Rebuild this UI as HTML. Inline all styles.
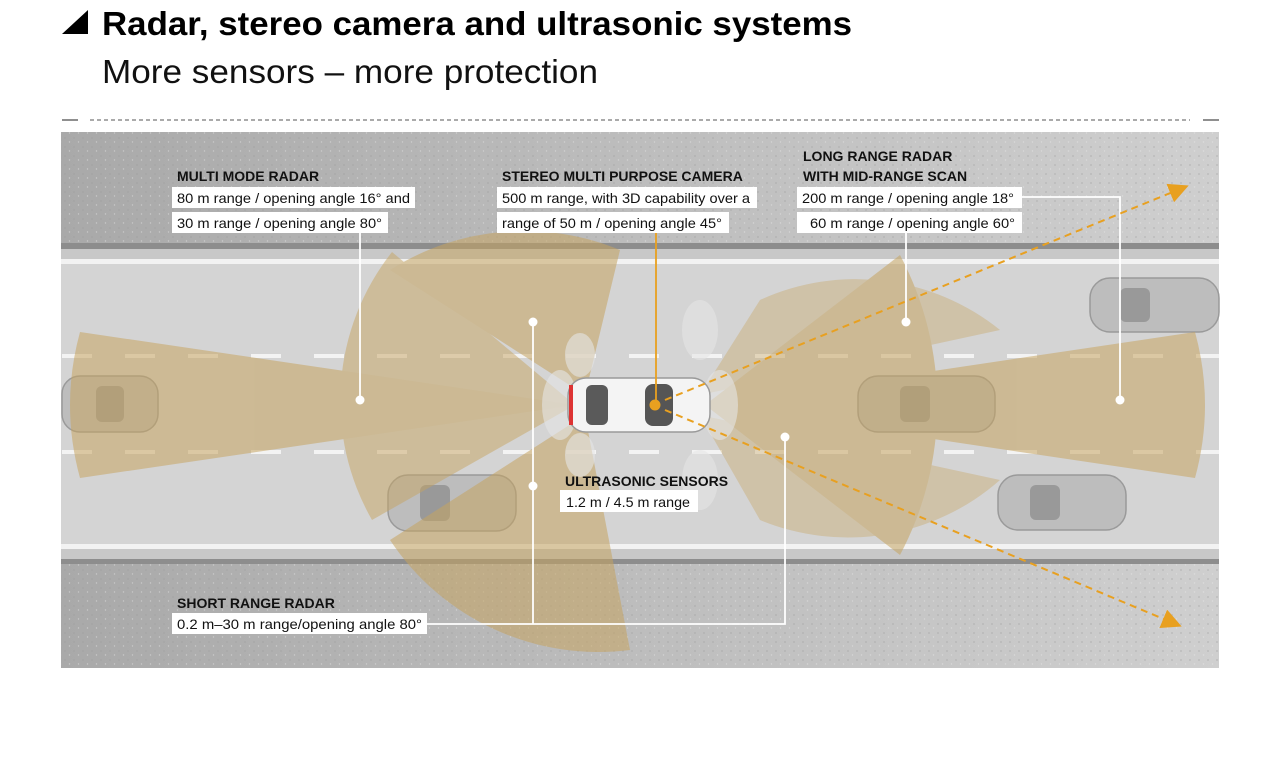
<!DOCTYPE html>
<html><head><meta charset="utf-8"><style>
body{margin:0;background:#fff;width:1281px;height:754px;overflow:hidden;font-family:"Liberation Sans",sans-serif}
</style></head><body>
<svg width="1281" height="754" xmlns="http://www.w3.org/2000/svg" font-family="Liberation Sans, sans-serif">
<defs>
<linearGradient id="sh" x1="0" x2="1" y1="0" y2="0"><stop offset="0" stop-color="#a9a9a9"/><stop offset="0.5" stop-color="#bdbdbd"/><stop offset="1" stop-color="#cfcfcf"/></linearGradient>
<pattern id="dots" width="9" height="9" patternUnits="userSpaceOnUse"><circle cx="2" cy="3" r="0.9" fill="#9a9a9a"/><circle cx="6.5" cy="7" r="0.7" fill="#eee"/></pattern>
<marker id="ar" markerWidth="10" markerHeight="10" refX="8" refY="5" orient="auto"><path d="M0,0 L10,5 L0,10z" fill="#e8a020"/></marker>
</defs>
<path d="M62,34 L88,10 L88,34 Z" fill="#000"/>
<text x="102" y="35" font-size="33" font-weight="bold" fill="#000" textLength="750" lengthAdjust="spacingAndGlyphs">Radar, stereo camera and ultrasonic systems</text>
<text x="102" y="83" font-size="33" fill="#111" textLength="496" lengthAdjust="spacingAndGlyphs">More sensors – more protection</text>
<line x1="62" y1="120" x2="78" y2="120" stroke="#444" stroke-width="1.2"/>
<line x1="90" y1="120" x2="1190" y2="120" stroke="#555" stroke-width="1" stroke-dasharray="4,3"/>
<line x1="1203" y1="120" x2="1219" y2="120" stroke="#444" stroke-width="1.2"/>
<rect x="61" y="132" width="1158" height="536" fill="url(#sh)"/>
<rect x="61" y="132" width="1158" height="536" fill="url(#dots)" opacity="0.45"/>
<rect x="61" y="243" width="1158" height="6" fill="#8d8d8d"/>
<rect x="61" y="249" width="1158" height="10" fill="#c8c8c8"/>
<rect x="61" y="259" width="1158" height="5" fill="#f2f2f2"/>
<rect x="61" y="264" width="1158" height="280" fill="#d4d4d4"/>
<rect x="61" y="544" width="1158" height="5" fill="#f2f2f2"/>
<rect x="61" y="549" width="1158" height="10" fill="#c8c8c8"/>
<rect x="61" y="559" width="1158" height="5" fill="#8d8d8d"/>
<g fill="#f3f3f3">
<g id="ld"><rect x="62" y="354" width="30" height="4"/><rect x="125" y="354" width="30" height="4"/><rect x="188" y="354" width="30" height="4"/><rect x="251" y="354" width="30" height="4"/><rect x="314" y="354" width="30" height="4"/><rect x="377" y="354" width="30" height="4"/><rect x="440" y="354" width="30" height="4"/><rect x="503" y="354" width="30" height="4"/><rect x="566" y="354" width="30" height="4"/><rect x="629" y="354" width="30" height="4"/><rect x="692" y="354" width="30" height="4"/><rect x="755" y="354" width="30" height="4"/><rect x="818" y="354" width="30" height="4"/><rect x="881" y="354" width="30" height="4"/><rect x="944" y="354" width="30" height="4"/><rect x="1007" y="354" width="30" height="4"/><rect x="1070" y="354" width="30" height="4"/><rect x="1133" y="354" width="30" height="4"/><rect x="1196" y="354" width="23" height="4"/></g>
<use href="#ld" y="96"/>
</g>
<g fill="#bdbdbd" stroke="#9a9a9a" stroke-width="1.5">
<rect x="62" y="376" width="96" height="56" rx="18"/>
<rect x="388" y="475" width="128" height="56" rx="20"/>
<rect x="1090" y="278" width="129" height="54" rx="20"/>
<rect x="998" y="475" width="128" height="55" rx="20"/>
<rect x="858" y="376" width="137" height="56" rx="20"/>
</g>
<g fill="#8a8a8a" opacity="0.7"><rect x="96" y="386" width="28" height="36" rx="6"/><rect x="420" y="485" width="30" height="36" rx="6"/><rect x="1120" y="288" width="30" height="34" rx="6"/><rect x="1030" y="485" width="30" height="35" rx="6"/><rect x="900" y="386" width="30" height="36" rx="6"/></g>
<g fill="#c6a461" opacity="0.55">
<path d="M575,405 L80,332 Q60,405 80,478 Z"/>
<path d="M705,405 L1195,332 Q1215,405 1195,478 Z"/>
<path d="M705,405 L900,255 A320,320 0 0 1 900,555 Z"/>
<path d="M575,405 L392,252 A240,240 0 0 0 372,520 Z" opacity="0.9"/>
<path d="M585,395 L390,270 A250,250 0 0 1 620,250 Z"/>
<path d="M585,415 L390,540 A250,250 0 0 0 630,650 Z"/>
<path d="M700,395 L760,300 A230,230 0 0 1 1000,330 Z" opacity="0.7"/>
<path d="M700,415 L760,520 A230,230 0 0 0 1000,480 Z" opacity="0.7"/>
</g>
<g fill="#e6e6e6" opacity="0.6">
<ellipse cx="700" cy="330" rx="18" ry="30"/><ellipse cx="700" cy="480" rx="18" ry="30"/>
<ellipse cx="580" cy="355" rx="15" ry="22"/><ellipse cx="580" cy="455" rx="15" ry="22"/>
<ellipse cx="560" cy="405" rx="18" ry="35"/><ellipse cx="720" cy="405" rx="18" ry="35"/>
</g>
<rect x="568" y="378" width="142" height="54" rx="18" fill="#f4f4f4" stroke="#9a9a9a" stroke-width="1.5"/>
<rect x="586" y="385" width="22" height="40" rx="6" fill="#5a5a5a"/>
<rect x="645" y="384" width="28" height="42" rx="8" fill="#555"/>
<rect x="569" y="385" width="4" height="40" fill="#d33"/>
<g stroke="#fff" stroke-width="1.8" fill="none">
<line x1="360" y1="233" x2="360" y2="400"/>
<line x1="533" y1="322" x2="533" y2="624"/>
<polyline points="427,624 785,624 785,437"/>
<polyline points="1022,197 1120,197 1120,400"/>
<line x1="906" y1="233" x2="906" y2="322"/>
</g>
<g fill="#fff"><circle cx="360" cy="400" r="4.5"/><circle cx="533" cy="322" r="4.5"/><circle cx="533" cy="486" r="4.5"/><circle cx="785" cy="437" r="4.5"/><circle cx="1120" cy="400" r="4.5"/><circle cx="906" cy="322" r="4.5"/></g>
<line x1="656" y1="233" x2="656" y2="405" stroke="#e8a020" stroke-width="1.8"/>
<circle cx="655" cy="405" r="5.5" fill="#e8a020"/>
<g stroke="#e8a020" stroke-width="2" stroke-dasharray="7,5" fill="none">
<line x1="665" y1="400" x2="1185" y2="187" marker-end="url(#ar)"/>
<line x1="665" y1="410" x2="1178" y2="625" marker-end="url(#ar)"/>
</g>
<g fill="#fff"><rect x="172" y="187" width="243" height="21"/><rect x="172" y="212" width="216" height="21"/>
<rect x="497" y="187" width="260" height="21"/><rect x="497" y="212" width="232" height="21"/>
<rect x="797" y="187" width="225" height="21"/><rect x="797" y="212" width="225" height="21"/>
<rect x="560" y="490" width="138" height="22"/><rect x="172" y="613" width="255" height="21"/></g>
<g font-size="14" font-weight="bold" fill="#111">
<text x="177" y="181">MULTI MODE RADAR</text>
<text x="502" y="181">STEREO MULTI PURPOSE CAMERA</text>
<text x="803" y="161">LONG RANGE RADAR</text>
<text x="803" y="181">WITH MID-RANGE SCAN</text>
<text x="565" y="486">ULTRASONIC SENSORS</text>
<text x="177" y="608">SHORT RANGE RADAR</text>
</g>
<g font-size="14" fill="#111">
<text x="177" y="203" textLength="233" lengthAdjust="spacingAndGlyphs">80 m range / opening angle 16° and</text>
<text x="177" y="228" textLength="205" lengthAdjust="spacingAndGlyphs">30 m range / opening angle 80°</text>
<text x="502" y="203" textLength="248" lengthAdjust="spacingAndGlyphs">500 m range, with 3D capability over a</text>
<text x="502" y="228" textLength="220" lengthAdjust="spacingAndGlyphs">range of 50 m / opening angle 45°</text>
<text x="802" y="203" textLength="212" lengthAdjust="spacingAndGlyphs">200 m range / opening angle 18°</text>
<text x="810" y="228" textLength="205" lengthAdjust="spacingAndGlyphs">60 m range / opening angle 60°</text>
<text x="566" y="507" textLength="124" lengthAdjust="spacingAndGlyphs">1.2 m / 4.5 m range</text>
<text x="177" y="629" textLength="245" lengthAdjust="spacingAndGlyphs">0.2 m–30 m range/opening angle 80°</text>
</g>
</svg>
</body></html>
